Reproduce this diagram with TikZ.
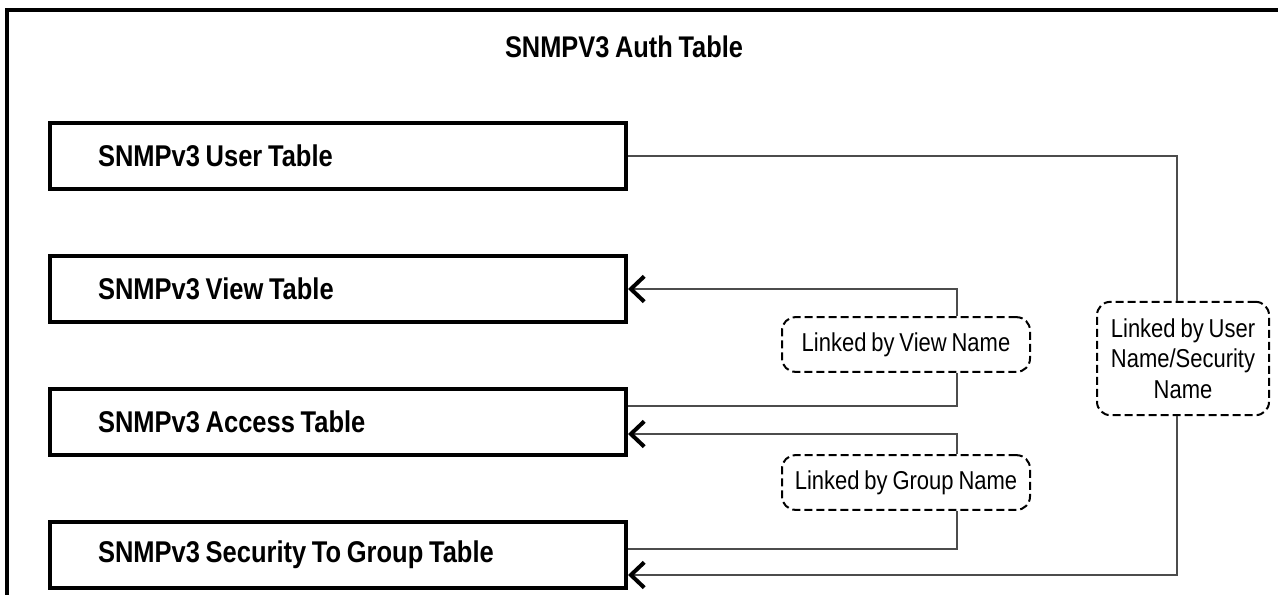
\documentclass[tikz,border=0pt]{standalone}
\usepackage{fontspec}
\setmainfont{Liberation Sans}
\newfontfamily\condsans[FakeStretch=0.85, WordSpace=0.8]{Liberation Sans}
\newfontfamily\condbold[FakeStretch=0.85, WordSpace=0.8]{Liberation Sans Bold}
\usetikzlibrary{positioning, arrows.meta, calc}

\begin{document}
\begin{tikzpicture}[
    x=0.75pt, y=-0.75pt,
    node distance=46.75pt,
    table/.style={rectangle, draw, line width=3pt, minimum width=432pt,
                  minimum height=50pt, text width=360pt, inner xsep=36pt,
                  align=left, font=\condbold\fontsize{22.5}{26}\selectfont,
                  execute at begin node={\spaceskip=0pt\xspaceskip=0pt\relax}},
    linkbox/.style={rectangle, draw, dash pattern=on 6pt off 3pt,
                    line width=1.5pt, rounded corners=10pt, align=center,
                    font=\condsans\fontsize{19.4}{23}\selectfont},
    link/.style={line width=0.9pt, black!70},
    arr/.style={link, -{Straight Barb[length=10pt, width=19pt, line width=3pt, color=black]}}
]
\useasboundingbox (0,0) rectangle (1278,595);
\draw[line width=2.3pt] (1278,10) -- (7,10) -- (7,595);

\node[font=\condbold\fontsize{22.4}{26}\selectfont] (title) at (624,47) {SNMPV3 Auth Table};

\node[table, anchor=west] (user) at (48,156) {SNMPv3 User Table};
\node[table, below=of user] (view) {SNMPv3 View Table};
\node[table, below=of view] (access) {SNMPv3 Access Table};
\node[table, below=of access] (secgrp) {SNMPv3 Security To Group Table};

\node[linkbox, minimum width=186pt, minimum height=41pt] (vlink) at (906,344.5) {Linked by View Name};
\node[linkbox, minimum width=186pt, minimum height=41pt] (glink) at (906,482.5) {Linked by Group Name};
\node[linkbox, minimum width=129pt, minimum height=85pt] (ulink) at (1183,358.5) {Linked by User\\Name/Security\\Name};

\coordinate (vx) at (957,0);
\coordinate (ux) at (1177,0);

\draw[arr] (vlink.north -| vx) |- (view.east);
\draw[link] (vlink.south -| vx) |- ($(access.east)+(0,-16)$);
\draw[arr] (glink.north -| vx) |- ($(access.east)+(0,12)$);
\draw[link] (glink.south -| vx) |- ($(secgrp.east)+(0,-6)$);
\draw[link] (user.east) -| (ulink.north -| ux);
\draw[arr] (ulink.south -| ux) |- ($(secgrp.east)+(0,20)$);
\end{tikzpicture}
\end{document}
